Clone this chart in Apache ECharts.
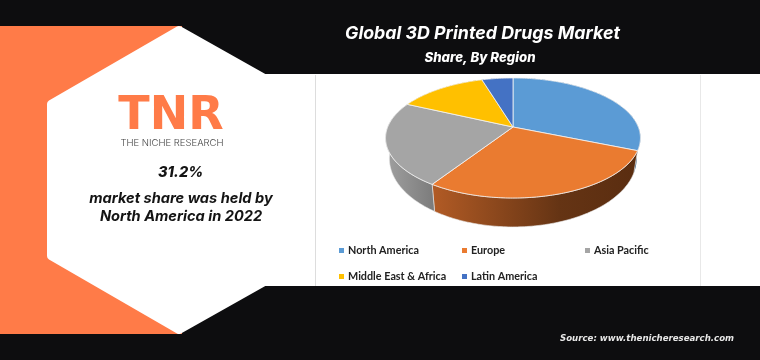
<!DOCTYPE html>
<html><head><meta charset="utf-8"><style>html,body{margin:0;padding:0;background:#0d0d0f}#c{width:760px;height:360px}</style>
<script src="https://cdn.jsdelivr.net/npm/echarts@6/dist/echarts.min.js"></script></head>
<body><div id="c"></div><script>
const regions = ['North America','Europe','Asia Pacific','Middle East & Africa','Latin America'];
const shares = [31.2, 28.0, 22.7, 13.4, 4.7];
const topColors = ['#5B9BD5','#EA7B30','#A5A5A5','#FFC000','#4472C4'];
const sideStops = [
  [[0,'#2f6a9e'],[1,'#1c4a72']],
  [[0,'#B25B25'],[0.62,'#653414'],[1,'#5a2d10']],
  [[0,'#a0a0a0'],[1,'#7b7b7b']],
  [[0,'#c79600'],[1,'#c79600']],
  [[0,'#2f5597'],[1,'#2f5597']]
];
const P = {x:513, y:127, a:125.3, b:58, k:0.183, shrink:0.97, ys:1.14, dy:19};
let cum = 0;
const spans = shares.map(v => { const s = cum; cum += v; return [s, cum]; });
const FONT = 'Inter';

function topPt(pct){
  const t = pct/100*2*Math.PI, u = Math.sin(t), v = -Math.cos(t), w = 1-P.k*v;
  return [P.x+P.a*u/w, P.y+P.b*v/w];
}
function basePt(p){ return [P.x+(p[0]-P.x)*P.shrink, P.y+(p[1]-P.y)*P.ys+P.dy]; }
function arc(s,e){ const n=Math.max(2,Math.ceil((e-s)*4)), r=[]; for(let i=0;i<=n;i++) r.push(topPt(s+(e-s)*i/n)); return r; }

const sideSeries = {
  type:'custom', name:'side', coordinateSystem:'none', silent:true, z:3,
  data: spans.map((s,i)=>({value:[s[0],s[1],i]})),
  renderItem(params, api){
    const s=api.value(0), e=api.value(1), i=api.value(2);
    const a=arc(s,e), pts=a.concat(a.map(basePt).reverse());
    const xs=pts.map(p=>p[0]);
    return {type:'polygon',shape:{points:pts},style:{
      fill:{type:'linear',x:Math.min(...xs),y:0,x2:Math.max(...xs),y2:0,global:true,
        colorStops:sideStops[i].map(c=>({offset:c[0],color:c[1]}))},
      stroke:i===1||i===2?'#e9e9e9':null,lineWidth:i===1||i===2?0.6:0}};
  }
};
const topSeries = regions.map((name,i)=>({
  type:'custom', name, coordinateSystem:'none', z:5,
  itemStyle:{color:topColors[i]},
  data:[{name,value:[spans[i][0],spans[i][1]]}],
  renderItem(params, api){
    const pts=[[P.x,P.y]].concat(arc(api.value(0),api.value(1)));
    return {type:'polygon',shape:{points:pts},style:{fill:topColors[i],stroke:'#f4f4f4',lineWidth:0.8}};
  }
}));
const legendBase = {orient:'vertical',icon:'rect',itemWidth:5,itemHeight:5,itemGap:15,padding:0,selectedMode:false,z:8,
  textStyle:{fontFamily:'Lato',fontWeight:700,fontSize:10.8,color:'#222',padding:[0,0,0,-1]}};
const txt=(text,x,y,size,extra)=>({type:'text',z:2,style:Object.assign({text,x,y,align:'center',verticalAlign:'middle',
  font:`italic 700 ${size}px ${FONT}`,fill:'#141414'},extra||{})});

const chart = echarts.init(document.getElementById('c'),null,{renderer:'canvas'});
chart.setOption({
  animation:false,
  backgroundColor:'#0d0d0f',
  title:[
    {text:'Global 3D Printed Drugs Market',left:477.5,top:20,textAlign:'center',textStyle:{color:'#fff',fontFamily:FONT,fontStyle:'italic',fontWeight:700,fontSize:17.8}},
    {text:'Share, By Region',left:475,top:47,textAlign:'center',textStyle:{color:'#fff',fontFamily:FONT,fontStyle:'italic',fontWeight:800,fontSize:13.2}}
  ],
  legend:[
    Object.assign({},legendBase,{left:339,top:245,data:[regions[0],regions[3]]}),
    Object.assign({},legendBase,{left:462,top:245,data:[regions[1],regions[4]]}),
    Object.assign({},legendBase,{left:585,top:245,data:[regions[2]]})
  ],
  graphic:[
    {type:'rect',z:0,shape:{x:0,y:74,width:760,height:212},style:{fill:'#fff'}},
    {type:'rect',z:0,shape:{x:0,y:26,width:182,height:308},style:{fill:'#FF7B48'}},
    {type:'polygon',z:1,shape:{points:[[179,30],[51,104],[51,256],[179,330],[266,281],[266,79]]},
      style:{fill:'#fff',stroke:'#fff',lineWidth:8,lineJoin:'round'}},
    {type:'rect',z:1,shape:{x:315,y:75,width:1,height:211},style:{fill:'#dddddd'}},
    {type:'rect',z:1,shape:{x:700,y:75,width:1,height:211},style:{fill:'#e8e8e8'}},
    txt('TNR',171,117,46,{font:`700 46px 'DejaVu Sans'`,fill:'#FF7B48'}),
    txt('THE NICHE RESEARCH',172,143,9.5,{font:`300 9.5px ${FONT}`,fill:'#444'}),
    txt('31.2%',180.5,173,14.5,{font:`italic 800 14.5px ${FONT}`}),
    txt('market share was held by',181,199,14.6),
    txt('North America in 2022',181,217,14.6),
    txt('Source: www.thenicheresearch.com',647,338.5,8.6,{font:`italic 700 8.6px 'DejaVu Sans'`,fill:'#e8e8e8'})
  ],
  series:[sideSeries].concat(topSeries)
});
</script></body></html>
